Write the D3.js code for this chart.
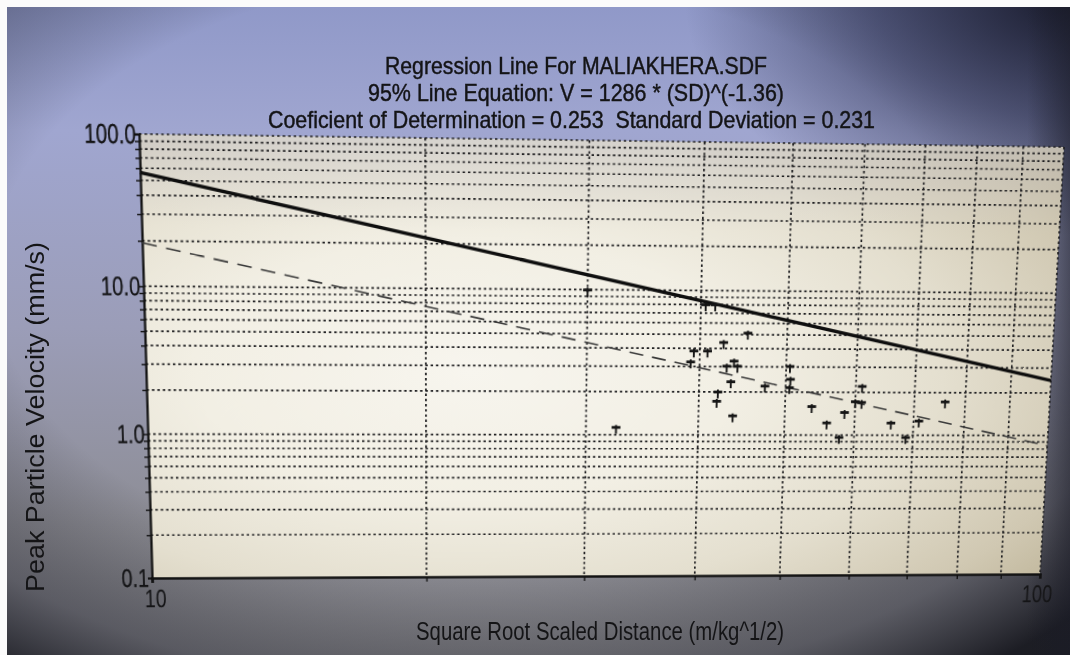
<!DOCTYPE html>
<html>
<head>
<meta charset="utf-8">
<script src="https://cdn.jsdelivr.net/npm/d3@7"></script>
<style>
  html, body { margin: 0; padding: 0; overflow: hidden; background: #85858b; }
  #stage { position: absolute; left: 0; top: 0; width: 1070px; height: 655px; overflow: hidden; }
  #stage svg { position: absolute; left: 0; top: 0; }
  text { font-family: "Liberation Sans", Arial, Helvetica, sans-serif; fill: #141416; }
</style>
</head>
<body>
<div id="stage"></div>
<script>
// ---- chart data ----
const titleLines = [
  "Regression Line For MALIAKHERA.SDF",
  "95% Line Equation: V = 1286 * (SD)^(-1.36)",
  "Coeficient of Determination = 0.253  Standard Deviation = 0.231"
];
const xAxisTitle = "Square Root Scaled Distance (m/kg^1/2)";
const yAxisTitle = "Peak Particle Velocity (mm/s)";

// blast records: scaled distance (m/kg^1/2) and peak particle velocity (mm/s)
const scaledDistance = [30.0, 40.5, 41.5, 45.2, 42.5, 39.4, 40.8, 39.1, 43.7, 44.1,
                        42.9, 50.5, 50.6, 50.5, 43.4, 47.4, 42.0, 41.9, 43.7, 32.4,
                        61.0, 60.0, 61.0, 53.6, 58.4, 55.8, 57.7, 66.0, 68.7, 71.0, 75.9];
const peakVelocity   = [9.7, 7.8, 7.8, 5.0, 4.3, 3.75, 3.75, 3.15, 3.2, 2.95,
                        2.95, 2.95, 2.4, 2.1, 2.3, 2.15, 1.95, 1.68, 1.33, 1.10,
                        2.15, 1.68, 1.66, 1.55, 1.41, 1.19, 0.94, 1.19, 0.94, 1.23, 1.68];

// regression: V = K * SD^b  (95% line from the stated equation, dashed = mean fit)
const k95 = 1286;
const k50 = 444;
const exponent = -1.36;

const xDomain = [10, 100];
const yDomain = [0.1, 100];
const xTickValues = [10, 100];
const xTickLabels = ["10", "100"];
const yTickValues = [0.1, 1, 10, 100];
const yTickLabels = ["0.1", "1.0", "10.0", "100.0"];
const xGridValues = [20, 30, 40, 50, 60, 70, 80, 90, 100];
const yGridValues = [0.2, 0.3, 0.4, 0.5, 0.6, 0.7, 0.8, 0.9, 1,
                     2, 3, 4, 5, 6, 7, 8, 9, 10,
                     20, 30, 40, 50, 60, 70, 80, 90, 100];

// ---- layout ----
const W = 1070, H = 655;
const margin = { left: 7, top: 7 };   // white print margin on the left and top
const plot = { left: 146, right: 1046, top: 140, bottom: 576 };
// where the flat plot frame lands on the tilted monitor view (TL, TR, BR, BL)
const viewCorners = [[139, 134], [1064, 147], [1040, 574], [152, 578]];

const stage = d3.select("#stage");

// ---- backdrop (monitor bezel glow) ----
const bg = stage.append("svg").attr("width", W).attr("height", H);
const bdefs = bg.append("defs");

const bgLin = bdefs.append("linearGradient").attr("id", "bgLin")
  .attr("x1", 0).attr("y1", 0).attr("x2", 0).attr("y2", 1);
[[0, "#8f98c8"], [0.2, "#a0a6d0"], [0.5, "#9b9db8"], [0.8, "#8d8d95"], [1, "#838389"]]
  .forEach(([o, c]) => bgLin.append("stop").attr("offset", o).attr("stop-color", c));

const bgVig = bdefs.append("radialGradient").attr("id", "bgVig")
  .attr("cx", 0.45).attr("cy", 0.42).attr("r", 0.76);
[[0, "#000", 0], [0.6, "#000", 0], [0.84, "#14151f", 0.38], [1, "#0a0b12", 0.85]]
  .forEach(([o, c, a]) => bgVig.append("stop").attr("offset", o).attr("stop-color", c).attr("stop-opacity", a));

const bgCorner = bdefs.append("radialGradient").attr("id", "bgCorner")
  .attr("cx", 1).attr("cy", 0).attr("r", 0.36);
[[0, "#161828", 0.92], [0.5, "#262a48", 0.58], [1, "#262a48", 0]]
  .forEach(([o, c, a]) => bgCorner.append("stop").attr("offset", o).attr("stop-color", c).attr("stop-opacity", a));

const bgRight = bdefs.append("linearGradient").attr("id", "bgRight")
  .attr("x1", 0).attr("y1", 0).attr("x2", 1).attr("y2", 0);
[[0, "#1a1b26", 0], [0.96, "#1a1b26", 0], [1, "#1a1b26", 0.55]]
  .forEach(([o, c, a]) => bgRight.append("stop").attr("offset", o).attr("stop-color", c).attr("stop-opacity", a));

["url(#bgLin)", "url(#bgVig)", "url(#bgCorner)", "url(#bgRight)"].forEach(f => {
  bg.append("rect").attr("x", 0).attr("y", 0).attr("width", W).attr("height", H).attr("fill", f);
});
// white margin strips
bg.append("rect").attr("x", 0).attr("y", 0).attr("width", margin.left).attr("height", H).attr("fill", "#fbfbfb");
bg.append("rect").attr("x", 0).attr("y", 0).attr("width", W).attr("height", margin.top).attr("fill", "#fbfbfb");

// ---- chart (flat coordinates, tilted afterwards) ----
const svg = stage.append("svg").attr("width", W).attr("height", H)
  .style("transform-origin", "0 0")
  .style("overflow", "visible");
const defs = svg.append("defs");

const paper = defs.append("radialGradient").attr("id", "paper")
  .attr("cx", 0.35).attr("cy", 0.52).attr("r", 0.85);
[[0, "#f7f5ee"], [0.35, "#f2efe4"], [0.62, "#e4dfcf"], [0.85, "#d0c8b2"], [1, "#bdb397"]]
  .forEach(([o, c]) => paper.append("stop").attr("offset", o).attr("stop-color", c));
const paperTop = defs.append("linearGradient").attr("id", "paperTop")
  .attr("x1", 0).attr("y1", 0).attr("x2", 0).attr("y2", 1);
[[0, "#c0c0cc", 0.4], [0.2, "#c8c6cc", 0], [1, "#c8c6cc", 0]]
  .forEach(([o, c, a]) => paperTop.append("stop").attr("offset", o).attr("stop-color", c).attr("stop-opacity", a));

const x = d3.scaleLog().domain(xDomain).range([plot.left, plot.right]);
const y = d3.scaleLog().domain(yDomain).range([plot.bottom, plot.top]);

svg.append("rect")
  .attr("x", plot.left).attr("y", plot.top)
  .attr("width", plot.right - plot.left).attr("height", plot.bottom - plot.top)
  .attr("fill", "url(#paper)");
svg.append("rect")
  .attr("x", plot.left).attr("y", plot.top)
  .attr("width", plot.right - plot.left).attr("height", plot.bottom - plot.top)
  .attr("fill", "url(#paperTop)");

// dotted grid
const grid = svg.append("g").attr("stroke", "#1e1e20").attr("stroke-width", 1.7)
  .attr("stroke-dasharray", "2.4,2.8").attr("fill", "none");
grid.selectAll("line.h").data(yGridValues).join("line").attr("class", "h")
  .attr("x1", plot.left).attr("x2", plot.right)
  .attr("y1", d => y(d)).attr("y2", d => y(d));
grid.selectAll("line.v").data(xGridValues).join("line").attr("class", "v")
  .attr("y1", plot.top).attr("y2", plot.bottom)
  .attr("x1", d => x(d)).attr("x2", d => x(d));

// axes drawn with d3 axis generators
const yAxis = d3.axisLeft(y).tickValues(yGridValues.concat([0.1])).tickSize(4).tickFormat("");
const yAxisG = svg.append("g").attr("transform", `translate(${plot.left},0)`).call(yAxis);
yAxisG.select(".domain").attr("stroke", "#111").attr("stroke-width", 2.2);
yAxisG.selectAll(".tick line").attr("stroke", "#111").attr("stroke-width", 1.4);

const xAxis = d3.axisBottom(x).tickValues([10].concat(xGridValues)).tickSize(5).tickFormat("");
const xAxisG = svg.append("g").attr("transform", `translate(0,${plot.bottom})`).call(xAxis);
xAxisG.select(".domain").attr("stroke", "#111").attr("stroke-width", 2.6);
xAxisG.selectAll(".tick line").attr("stroke", "#111").attr("stroke-width", 1.4);

// tick labels
const yLab = svg.append("g");
yTickValues.forEach((v, i) => {
  yLab.append("text")
    .attr("transform", `translate(${plot.left - 3},${y(v) + 9}) scale(0.74,1)`)
    .attr("text-anchor", "end")
    .attr("font-size", 26)
    .attr("stroke", "#141416").attr("stroke-width", 0.3)
    .text(yTickLabels[i]);
});
const xLab = svg.append("g");
xTickValues.forEach((v, i) => {
  xLab.append("text")
    .attr("transform", `translate(${x(v) + (i === 0 ? 3 : -2)},${plot.bottom + 30}) scale(0.74,1)`)
    .attr("text-anchor", "middle")
    .attr("font-size", 26)
    .text(xTickLabels[i]);
});

// regression lines
const lineGen = d3.line().x(d => x(d[0])).y(d => y(d[1]));
svg.append("path")
  .datum(xDomain.map(sd => [sd, k50 * Math.pow(sd, exponent)]))
  .attr("d", lineGen)
  .attr("fill", "none").attr("stroke", "#3a3a3a").attr("stroke-width", 1.6)
  .attr("stroke-dasharray", "14,9");
svg.append("path")
  .datum(xDomain.map(sd => [sd, k95 * Math.pow(sd, exponent)]))
  .attr("d", lineGen)
  .attr("fill", "none").attr("stroke", "#0e0e0e").attr("stroke-width", 3.4);

// data points drawn as small bold crosses
const pts = scaledDistance.map((sd, i) => [sd, peakVelocity[i]]);
const marks = svg.append("g").attr("stroke", "#151515").attr("fill", "none");
marks.selectAll("g.pt").data(pts).join("g").attr("class", "pt")
  .attr("transform", d => `translate(${x(d[0])},${y(d[1])})`)
  .each(function () {
    const g = d3.select(this);
    g.append("path").attr("d", "M-4.4,-1.5H4.4").attr("stroke-width", 2.8);
    g.append("path").attr("d", "M0,-4V5").attr("stroke-width", 1.9);
  });

// ---- projective tilt of the chart ----
function solve(A, b) {
  const n = b.length;
  const M = A.map((row, i) => row.concat([b[i]]));
  for (let c = 0; c < n; c++) {
    let p = c;
    for (let r = c + 1; r < n; r++) if (Math.abs(M[r][c]) > Math.abs(M[p][c])) p = r;
    [M[c], M[p]] = [M[p], M[c]];
    for (let r = 0; r < n; r++) {
      if (r === c) continue;
      const f = M[r][c] / M[c][c];
      for (let k = c; k <= n; k++) M[r][k] -= f * M[c][k];
    }
  }
  return M.map((row, i) => row[n] / row[i]);
}
function homography(src, dst) {
  const A = [], b = [];
  src.forEach(([sx, sy], i) => {
    const [dx, dy] = dst[i];
    A.push([sx, sy, 1, 0, 0, 0, -dx * sx, -dx * sy]); b.push(dx);
    A.push([0, 0, 0, sx, sy, 1, -dy * sx, -dy * sy]); b.push(dy);
  });
  return solve(A, b);
}
const flatCorners = [[plot.left, plot.top], [plot.right, plot.top], [plot.right, plot.bottom], [plot.left, plot.bottom]];
const h = homography(flatCorners, viewCorners);
svg.style("transform",
  `matrix3d(${h[0]},${h[3]},0,${h[6]},${h[1]},${h[4]},0,${h[7]},0,0,1,0,${h[2]},${h[5]},0,1)`);

// ---- titles and axis titles (upright layer) ----
const txt = stage.append("svg").attr("width", W).attr("height", H);
const titleY = [74, 101, 128];
const titleX0 = [385, 368, 268];
const titleWidth = [382, 416, 607];
titleLines.forEach((t, i) => {
  txt.append("text")
    .attr("x", titleX0[i]).attr("y", titleY[i])
    .attr("font-size", 24)
    .attr("stroke", "#141416").attr("stroke-width", 0.45)
    .attr("textLength", titleWidth[i]).attr("lengthAdjust", "spacingAndGlyphs")
    .style("white-space", "pre")
    .text(t);
});

txt.append("text")
  .attr("x", 416).attr("y", 640)
  .attr("font-size", 25)
  .attr("textLength", 368).attr("lengthAdjust", "spacingAndGlyphs")
  .attr("fill", "#1c1c1e")
  .text(xAxisTitle);

txt.append("text")
  .attr("transform", "translate(44,592) rotate(-90)")
  .attr("font-size", 25)
  .attr("textLength", 350).attr("lengthAdjust", "spacingAndGlyphs")
  .attr("fill", "#1c1c1e")
  .text(yAxisTitle);
</script>
</body>
</html>
